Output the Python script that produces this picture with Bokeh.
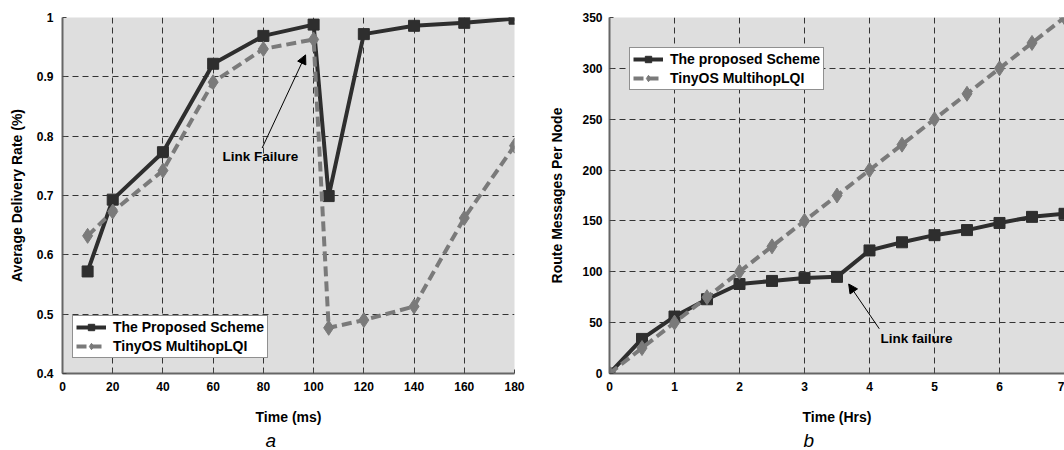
from bokeh.plotting import figure
from bokeh.layouts import row
from bokeh.models import Legend, LegendItem, Label, Arrow, NormalHead, FixedTicker, Range1d, Title
from bokeh.embed import file_html
from bokeh.resources import INLINE

# ---------------- data: panel a ----------------
time_ms = [10, 20, 40, 60, 80, 100, 106, 120, 140, 160, 180]
proposed_rate = [0.572, 0.693, 0.773, 0.922, 0.969, 0.988, 0.699, 0.972, 0.986, 0.991, 0.998]
tinyos_rate = [0.632, 0.673, 0.742, 0.891, 0.947, 0.963, 0.477, 0.490, 0.513, 0.662, 0.784]
a_xticks = [0, 20, 40, 60, 80, 100, 120, 140, 160, 180]
a_yticks = [0.4, 0.5, 0.6, 0.7, 0.8, 0.9, 1.0]
a_ylabels = ["0.4", "0.5", "0.6", "0.7", "0.8", "0.9", "1"]

# ---------------- data: panel b ----------------
time_hrs = [0, 0.5, 1, 1.5, 2, 2.5, 3, 3.5, 4, 4.5, 5, 5.5, 6, 6.5, 7]
proposed_msgs = [0, 34, 56, 73, 88, 91, 94, 95, 121, 129, 136, 141, 148, 154, 157]
tinyos_msgs = [0, 25, 50, 75, 100, 125, 150, 175, 200, 225, 250, 275, 300, 325, 350]
b_xticks = [0, 1, 2, 3, 4, 5, 6, 7]
b_yticks = [0, 50, 100, 150, 200, 250, 300, 350]

FONT = "Liberation Sans"
DARK = "#2e2e2e"
GRAY = "#7a7a7a"
BG = "#dedede"


def style(p, xticks, yticks, ylabels=None):
    p.background_fill_color = BG
    p.border_fill_color = "white"
    p.outline_line_color = None
    for g in (p.xgrid, p.ygrid):
        g.grid_line_color = "#333333"
        g.grid_line_dash = "6 4"
        g.grid_line_width = 1
    p.xaxis.ticker = FixedTicker(ticks=xticks)
    p.yaxis.ticker = FixedTicker(ticks=yticks)
    if ylabels is not None:
        p.yaxis.major_label_overrides = dict(zip(yticks, ylabels))
    for ax in (p.xaxis, p.yaxis):
        ax.axis_line_color = "#666666"
        ax.axis_line_width = 2
        ax.major_tick_in = 4
        ax.major_tick_out = 0
        ax.major_tick_line_color = "#444444"
        ax.minor_tick_line_color = None
        ax.major_label_text_font = FONT
        ax.major_label_text_font_style = "bold"
        ax.major_label_text_font_size = "12px"
        ax.major_label_text_color = "black"
        ax.axis_label_text_font = FONT
        ax.axis_label_text_font_style = "bold"
        ax.axis_label_text_font_size = "14px"
        ax.axis_label_text_color = "black"
    p.xaxis.major_label_standoff = 8
    p.xaxis.axis_label_standoff = 15


def add_series(p, x, y1, y2, label1, label2, loc):
    l1 = p.line(x, y1, line_color=DARK, line_width=4)
    s1 = p.scatter(x, y1, marker="square", size=11, fill_color=DARK, line_color=DARK)
    l2 = p.line(x, y2, line_color=GRAY, line_width=4, line_dash="10 5")
    s2 = p.scatter(x, y2, marker="diamond", size=15, fill_color=GRAY, line_color=GRAY)
    leg = Legend(items=[LegendItem(label=label1, renderers=[l1, s1]),
                        LegendItem(label=label2, renderers=[l2, s2])],
                 location=loc)
    leg.label_text_font = FONT
    leg.label_text_font_style = "bold"
    leg.label_text_font_size = "14px"
    leg.label_text_color = "black"
    leg.border_line_color = "#222222"
    leg.border_line_width = 1
    leg.background_fill_color = "white"
    leg.background_fill_alpha = 1
    leg.glyph_width = 30
    leg.glyph_height = 16
    leg.label_height = 16
    leg.spacing = 3
    leg.padding = 3
    leg.margin = 0
    leg.label_standoff = 7
    p.add_layout(leg)


def panel_letter(p, letter, offset):
    t = Title(text=letter, align="left", offset=offset, text_font=FONT,
              text_font_style="italic", text_font_size="19px", text_color="black",
              standoff=0)
    p.add_layout(t, "below")


# ---------------- panel a ----------------
pa = figure(width=540, height=450, output_backend="svg", toolbar_location=None,
            x_range=Range1d(0, 180), y_range=Range1d(0.4, 1.0),
            min_border_left=62, min_border_right=26, min_border_top=15, min_border_bottom=77)
style(pa, a_xticks, a_yticks, a_ylabels)
pa.xaxis.axis_label = "Time (ms)"
pa.yaxis.axis_label = "Average Delivery Rate (%)"
pa.yaxis.major_label_standoff = 9
pa.yaxis.axis_label_standoff = 9
add_series(pa, time_ms, proposed_rate, tinyos_rate,
           "The Proposed Scheme", "TinyOS MultihopLQI", (10, 15))
pa.add_layout(Arrow(end=NormalHead(size=9, fill_color="black", line_color="black", line_width=1),
                    x_start=79.5, y_start=0.780, x_end=96.8, y_end=0.937,
                    line_color="black", line_width=1))
pa.add_layout(Label(x=63.7, y=0.766, text="Link Failure", text_font=FONT,
                    text_font_style="bold", text_font_size="13.5px",
                    text_baseline="middle", text_align="left", text_color="black"))
panel_letter(pa, "a", 203)

# ---------------- panel b ----------------
pb = figure(width=524, height=450, output_backend="svg", toolbar_location=None,
            x_range=Range1d(0, 7), y_range=Range1d(0, 350),
            min_border_left=69, min_border_right=0, min_border_top=17, min_border_bottom=77)
style(pb, b_xticks, b_yticks)
pb.xaxis.axis_label = "Time (Hrs)"
pb.yaxis.axis_label = "Route Messages Per Node"
pb.yaxis.major_label_standoff = 7
pb.yaxis.axis_label_standoff = 14
add_series(pb, time_hrs, proposed_msgs, tinyos_msgs,
           "The proposed Scheme", "TinyOS MultihopLQI", (20, 283))
pb.add_layout(Arrow(end=NormalHead(size=9, fill_color="black", line_color="black", line_width=1),
                    x_start=4.15, y_start=44, x_end=3.68, y_end=88,
                    line_color="black", line_width=1))
pb.add_layout(Label(x=4.17, y=34.4, text="Link failure", text_font=FONT,
                    text_font_style="bold", text_font_size="13.5px",
                    text_baseline="middle", text_align="left", text_color="black"))
panel_letter(pb, "b", 194)

layout = row(pa, pb)
open("out.html", "w").write(file_html(layout, INLINE))
